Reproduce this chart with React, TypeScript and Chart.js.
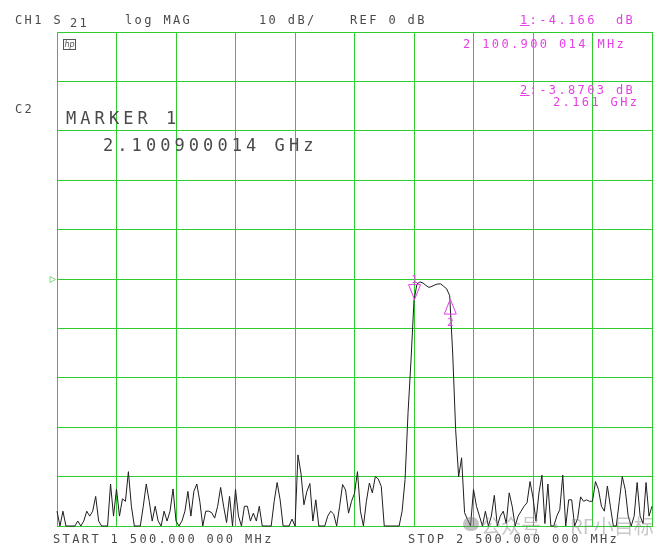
import React, { useEffect, useRef } from "react";
import { Chart, registerables } from "chart.js";

Chart.register(...registerables);

const startMHz = 1500;
const stopMHz = 2500;
const stepMHz = 5;
const refLevelDb = 0;
const dbPerDiv = 10;
const refDivisionsAbove = 5;

// S21 log magnitude trace (dB), one value per sweep point (201 points)
const traceDb: number[] = [
  -47, -50, -47, -50, -50, -50, -50, -49, -50, -49,
  -47, -48, -47, -44, -49, -50, -50, -50, -41.5, -48,
  -42.5, -48, -44.5, -45, -39, -46, -50, -50, -50, -46,
  -41.5, -45, -49, -46, -49, -50, -47, -49, -47, -42.5,
  -49, -50, -49, -47, -43, -48, -43, -41.5, -45, -50,
  -47, -47, -47.3, -48.4, -46, -42.2, -46, -49.3, -44, -50,
  -42.6, -48, -50, -46, -46, -49, -47.4, -49, -46, -50,
  -50, -50, -50, -45, -41.2, -44.7, -50, -50, -50, -48.6,
  -50, -35.6, -39.3, -45.7, -43, -41.4, -49, -44.7, -50, -50,
  -50, -48, -47, -47.6, -50, -46, -41.6, -42.7, -47.4, -45,
  -43.4, -39, -47, -50, -45, -41.3, -43.3, -40, -40.5, -42,
  -50, -50, -50, -50, -50, -50, -47, -40.6, -27, -16.4,
  -4.3, -1, -0.6, -0.8, -1.3, -1.7, -1.5, -1.2, -1, -1,
  -1.5, -2, -3.4, -15, -30.5, -40, -36.2, -47.3, -48.7, -50,
  -42.6, -46, -48, -50, -47, -50, -48, -43.8, -50, -48,
  -47, -49.5, -43.3, -46, -50, -48, -47, -46, -45.3, -41,
  -44.3, -49, -43.3, -39.7, -49.5, -41.5, -50, -50, -48, -46.7,
  -39.7, -50, -44.7, -44.7, -50, -48.5, -44.1, -45, -44.7, -45,
  -45, -41, -42.6, -46, -47, -41.9, -46, -50, -50, -45,
  -40, -42.6, -48, -50, -48, -41.2, -48, -49.5, -41.2, -48,
  -46,
];

// Marker readouts
const markerNames = ["1", "2"];
const markerFreqMHz = [2100.900014, 2161];
const markerDb = [-4.166, -3.8703];

const GRID = "rgb(46,204,46)";
const MAGENTA = "#e63fe6";
const TEXT = "#4a4a4a";

const markerPlugin = {
  id: "vnaMarkers",
  afterDatasetsDraw(chart: any) {
    const { ctx } = chart;
    const xs = chart.scales.x;
    const ys = chart.scales.y;
    ctx.save();
    // reference level triangle on the left
    const ry = Math.round(ys.getPixelForValue(refLevelDb)) + 0.5;
    ctx.strokeStyle = "rgb(120,220,120)";
    ctx.lineWidth = 1;
    ctx.beginPath();
    ctx.moveTo(xs.left - 7, ry - 3);
    ctx.lineTo(xs.left - 1.5, ry);
    ctx.lineTo(xs.left - 7, ry + 3);
    ctx.closePath();
    ctx.stroke();

    ctx.strokeStyle = MAGENTA;
    ctx.fillStyle = MAGENTA;
    ctx.font = "11px 'DejaVu Sans Mono'";
    ctx.textAlign = "center";
    markerFreqMHz.forEach((f, i) => {
      const px = xs.getPixelForValue(f);
      const py = ys.getPixelForValue(markerDb[i]);
      ctx.beginPath();
      if (i === 0) {
        // downward triangle, apex on the trace
        ctx.moveTo(px, py);
        ctx.lineTo(px - 6, py - 15);
        ctx.lineTo(px + 6, py - 15);
        ctx.closePath();
        ctx.stroke();
        ctx.textBaseline = "alphabetic";
        ctx.fillText(markerNames[i], px, py - 17);
      } else {
        // upward triangle, apex on the trace
        ctx.moveTo(px, py + 1);
        ctx.lineTo(px - 6, py + 16);
        ctx.lineTo(px + 6, py + 16);
        ctx.closePath();
        ctx.stroke();
        ctx.textBaseline = "alphabetic";
        ctx.fillText(markerNames[i], px, py + 28);
      }
    });
    ctx.restore();
  },
};

function Txt(props: {
  x: number;
  base: number;
  size?: number;
  pitch?: number;
  color?: string;
  children: React.ReactNode;
  family?: string;
}) {
  const size = props.size ?? 12;
  const pitch = props.pitch ?? 9.6;
  const adv = size * 0.602;
  return (
    <div
      style={{
        position: "absolute",
        left: props.x,
        top: props.base - size * 0.846,
        fontFamily: props.family ?? "'DejaVu Sans Mono', monospace",
        fontSize: size,
        lineHeight: `${size}px`,
        letterSpacing: pitch - adv,
        color: props.color ?? TEXT,
        whiteSpace: "pre",
      }}
    >
      {props.children}
    </div>
  );
}

export default function App() {
  const canvasRef = useRef<HTMLCanvasElement | null>(null);

  useEffect(() => {
    document.body.style.margin = "0";
    const canvas = canvasRef.current;
    if (!canvas) return;
    const points = traceDb.map((v, i) => ({ x: startMHz + i * stepMHz, y: v }));
    const top = refLevelDb + dbPerDiv * refDivisionsAbove;
    const bottom = refLevelDb - dbPerDiv * (10 - refDivisionsAbove);
    const chart = new Chart(canvas, {
      type: "line",
      data: {
        datasets: [
          {
            data: points,
            borderColor: "#1e1e1e",
            borderWidth: 1,
            pointRadius: 0,
            tension: 0,
            clip: 3,
          },
        ],
      },
      options: {
        animation: false,
        responsive: false,
        events: [],
        layout: { padding: { left: 57, right: 15, top: 32, bottom: 31 } },
        plugins: { legend: { display: false }, tooltip: { enabled: false } },
        scales: {
          x: {
            type: "linear",
            min: startMHz,
            max: stopMHz,
            ticks: { display: false, stepSize: 100 },
            grid: { color: GRID, lineWidth: 1, drawTicks: false },
            border: { display: true, color: GRID, width: 1 },
            afterFit: (s: any) => {
              s.height = 0;
            },
          },
          y: {
            min: bottom,
            max: top,
            ticks: { display: false, stepSize: dbPerDiv },
            grid: { color: GRID, lineWidth: 1, drawTicks: false },
            border: { display: true, color: GRID, width: 1 },
            afterFit: (s: any) => {
              s.width = 0;
            },
          },
        },
      },
      plugins: [markerPlugin],
    });
    return () => chart.destroy();
  }, []);

  return (
    <div
      style={{
        position: "fixed",
        left: 0,
        top: 0,
        width: 667,
        height: 557,
        background: "#fff",
        overflow: "hidden",
      }}
    >
      <canvas ref={canvasRef} width={667} height={557} style={{ position: "absolute", left: 0, top: 0 }} />
      <Txt x={15} base={24}>CH1 S</Txt>
      <Txt x={70} base={27}>21</Txt>
      <Txt x={125} base={24}>log MAG</Txt>
      <Txt x={259} base={24}>10 dB/</Txt>
      <Txt x={350} base={24}>REF 0 dB</Txt>
      <Txt x={520} base={24} color={MAGENTA}>
        <span style={{ textDecoration: "underline" }}>1</span>:-4.166  dB
      </Txt>
      <Txt x={463} base={48} color={MAGENTA}>2 100.900 014 MHz</Txt>
      <Txt x={520} base={94} color={MAGENTA}>
        <span style={{ textDecoration: "underline" }}>2</span>:-3.8703 dB
      </Txt>
      <Txt x={553} base={106} color={MAGENTA}>2.161 GHz</Txt>
      <Txt x={15} base={113}>C2</Txt>
      <Txt x={66} base={124} size={17} pitch={14.3}>MARKER 1</Txt>
      <Txt x={103} base={151} size={17} pitch={14.3}>2.100900014 GHz</Txt>
      <Txt x={53} base={543}>START 1 500.000 000 MHz</Txt>
      <Txt x={408} base={543}>STOP 2 500.000 000 MHz</Txt>
      <div
        style={{
          position: "absolute",
          left: 63,
          top: 39,
          width: 11,
          height: 9,
          border: "1px solid #555",
          fontFamily: "'DejaVu Sans', sans-serif",
          fontStyle: "italic",
          fontSize: 8,
          lineHeight: "9px",
          color: "#555",
          textAlign: "center",
        }}
      >
        hp
      </div>
      <div
        style={{
          position: "absolute",
          left: 463,
          top: 517,
          width: 16,
          height: 14,
          borderRadius: 8,
          background: "rgba(120,120,120,0.45)",
        }}
      />
      <div
        style={{
          position: "absolute",
          left: 481,
          top: 514,
          fontFamily: "'Noto Sans CJK SC', sans-serif",
          fontSize: 20,
          lineHeight: "24px",
          color: "rgba(130,130,130,0.45)",
          whiteSpace: "pre",
        }}
      >
        公众号 · RF小目标
      </div>
    </div>
  );
}
